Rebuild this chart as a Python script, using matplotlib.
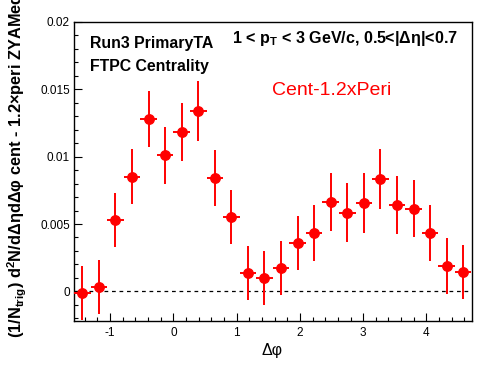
import numpy as np
import matplotlib
matplotlib.use("Agg")
import matplotlib.pyplot as plt
from matplotlib.ticker import MultipleLocator

plt.rcParams['font.family'] = ['Liberation Sans', 'DejaVu Sans']
plt.rcParams['mathtext.default'] = 'regular'

# data: 24 bins over [-pi/2, 3pi/2]
nbins = 24
values = [-0.00015, 0.00033, 0.0053, 0.0085, 0.0128, 0.0101, 0.01185, 0.0134,
          0.0084, 0.0055, 0.00137, 0.00102, 0.00174, 0.0036, 0.00434, 0.00665,
          0.00585, 0.00657, 0.00836, 0.00642, 0.00615, 0.00434, 0.00189, 0.00144]
errors = [0.0020, 0.0020, 0.00204, 0.00204, 0.0021, 0.00214, 0.00216, 0.00222,
          0.00208, 0.0020, 0.0020, 0.0020, 0.00203, 0.00203, 0.0021, 0.00214,
          0.00222, 0.00222, 0.00223, 0.00218, 0.00214, 0.0021, 0.00206, 0.0020]
xlo, xhi = -np.pi / 2, 3 * np.pi / 2
width = (xhi - xlo) / nbins
centers = xlo + (np.arange(nbins) + 0.5) * width

W, H = 496, 374
fig = plt.figure(figsize=(W / 100, H / 100), dpi=100)
ax = fig.add_axes([74 / W, 1 - 321 / H, (471.5 - 74) / W, (321 - 22) / H])

ax.errorbar(centers, values, yerr=errors, xerr=width / 2, fmt='o', color='red',
            ecolor='red', elinewidth=1.4, markersize=6.8, capsize=0, zorder=3)
ax.axhline(0, color='black', lw=0.9, ls=(0, (3, 3)), zorder=2)

ax.set_xlim(xlo, xhi)
ax.set_ylim(-0.0022, 0.02)
ax.xaxis.set_major_locator(MultipleLocator(1))
ax.xaxis.set_minor_locator(MultipleLocator(0.2))
ax.yaxis.set_major_locator(MultipleLocator(0.005))
ax.yaxis.set_minor_locator(MultipleLocator(0.001))
ax.set_yticks([0, 0.005, 0.01, 0.015, 0.02])
ax.set_yticklabels(['0', '0.005', '0.01', '0.015', '0.02'])
ax.set_xticks([-1, 0, 1, 2, 3, 4])
ax.set_xticklabels(['-1', '0', '1', '2', '3', '4'])
ax.tick_params(which='both', direction='in', top=False, right=False, labelsize=8.5, width=0.8)
ax.tick_params(which='major', length=6)
ax.tick_params(which='minor', length=3)
ax.tick_params(axis='x', pad=4)
ax.tick_params(axis='y', pad=3)
for s in ax.spines.values():
    s.set_linewidth(1.0)

fig.text(272 / W, 1 - 351 / H, 'Δφ', ha='center', va='center', fontsize=11.5)
fig.text(17 / W, 1 - 338 / H, '$(1/N_{trig})$ d$^{2}$N/dΔηdΔφ cent - 1.2×peri ZYAMed',
         rotation=90, ha='center', va='bottom', fontsize=11.8, fontweight='bold')

fig.text(90 / W, 1 - 47.7 / H, 'Run3 PrimaryTA', fontsize=11.4, fontweight='bold', va='baseline')
fig.text(90 / W, 1 - 71 / H, 'FTPC Centrality', fontsize=11.4, fontweight='bold', va='baseline')
fig.text(232 / W, 1 - 42.7 / H, '1 < p$_{T}$ < 3 GeV/c, 0.5<|Δη|<0.7', fontsize=11.6,
         fontweight='bold', va='baseline')
fig.text(272 / W, 1 - 95 / H, 'Cent-1.2xPeri', fontsize=14, color='red', va='baseline')

fig.savefig('out.png', dpi=100)
